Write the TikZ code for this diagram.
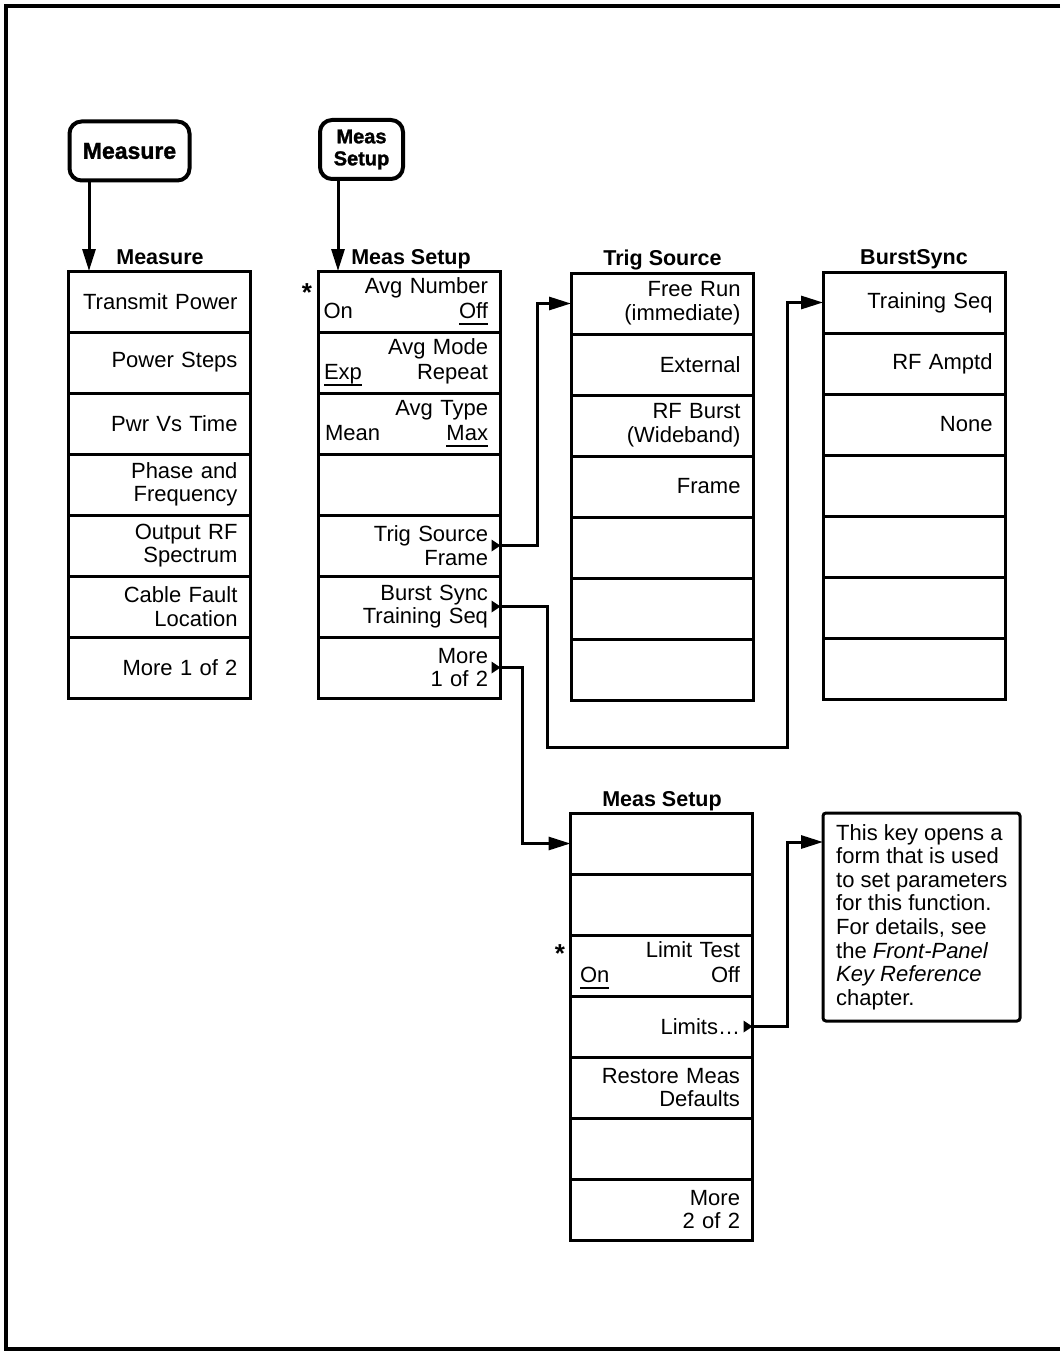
\documentclass[tikz,border=0pt]{standalone}
\usepackage{fontspec}
\setmainfont{Liberation Sans}
\newfontfamily\heavyfont{Liberation Sans}[BoldFeatures={FakeBold=1.5}]
\usetikzlibrary{arrows.meta,calc,positioning}
\newcommand\ulx[1]{\setbox0\hbox{#1}\rlap{\rule[-7pt]{\wd0}{2.4pt}}\box0}
\newcommand\rowfnt{\fontsize{22}{23.6}\selectfont}
\tikzset{
  x=1pt, y=-1pt,
  row/.style={draw, line width=3pt, outer sep=0pt, minimum width=182pt, minimum height=61pt,
    text width=157pt, inner xsep=12.5pt, inner ysep=0pt, align=right, font=\rowfnt},
  trow/.style={row, align=left, font=\fontsize{22}{25}\selectfont},
  ttl/.style={font=\bfseries\fontsize{21.5}{24}\selectfont, inner sep=0pt, anchor=base},
  hkey/.style={draw, line width=4pt, rounded corners=12pt, outer sep=0pt, align=center, inner sep=0pt},
  conn/.style={line width=3pt, -{Triangle[length=22pt,width=13pt]}},
  star/.style={font=\bfseries\fontsize{26}{26}\selectfont, inner sep=0pt, anchor=base},
  desc/.style={draw, line width=3pt, rounded corners=3pt, outer sep=0pt, minimum width=197pt, minimum height=208pt, inner sep=0pt},
  dtext/.style={align=left, inner sep=0pt, anchor=north west, font=\rowfnt},
  frame/.style={line width=4pt}
}
\begin{document}
\begin{tikzpicture}
\useasboundingbox (0,0) rectangle (1060,1351);
\draw[frame] (1060,6) -- (5.5,6) -- (5.5,1349) -- (1060,1349);

% hard keys
\node[hkey, minimum width=120pt, minimum height=59pt, font=\heavyfont\bfseries\fontsize{23}{24}\selectfont] (k1) at (129.5,151) {Measure};
\node[hkey, minimum width=83pt, minimum height=59pt, font=\heavyfont\bfseries\fontsize{20}{22}\selectfont] (k2) at (361.5,149.5) {Meas\\Setup};

% titles
\node[ttl] (tm) at (160,264.5) {Measure};
\node[ttl] (ts) at (411,264.5) {Meas Setup};
\node[ttl] (tt) at (662.5,265.5) {Trig Source};
\node[ttl] (tb) at (914,264.5) {BurstSync};
\node[ttl] (tp) at (662,806) {Meas Setup};

% Measure column
\node[row] (m1) at (159,301.5) {Transmit Power};
\node[row, below=0pt of m1] (m2) {Power Steps};
\node[row, below=0pt of m2] (m3) {Pwr Vs Time\hspace*{3pt}};
\node[row, below=0pt of m3] (m4) {Phase and\\Frequency};
\node[row, below=0pt of m4] (m5) {Output RF\\Spectrum};
\node[row, below=0pt of m5] (m6) {Cable Fault\\Location};
\node[row, below=0pt of m6] (m7) {More 1 of 2};

% Meas Setup column
\node[trow] (s1) at (409.5,301.5) {\null\hfill Avg Number\\\hspace*{-7.5pt}On\hfill\ulx{Off}\hspace*{1.5pt}};
\node[trow, below=0pt of s1] (s2) {\null\hfill Avg Mode\\\hspace*{-7pt}\ulx{Exp}\hfill Repeat};
\node[trow, below=0pt of s2] (s3) {\null\hfill Avg Type\\\hspace*{-6pt}Mean\hfill\ulx{Max}};
\node[row, below=0pt of s3] (s4) {};
\node[row, below=0pt of s4] (s5) {Trig Source\\Frame};
\node[row, below=0pt of s5] (s6) {Burst Sync\\Training Seq};
\node[row, below=0pt of s6] (s7) {More\\1 of 2};
\node[star] (st1) at (307,301) {*};

% Trig Source column
\node[row] (t1) at (662,303.5) {Free Run\\(immediate)};
\node[row, below=0pt of t1] (t2) {External};
\node[row, below=0pt of t2] (t3) {RF Burst\\(Wideband)};
\node[row, below=0pt of t3] (t4) {Frame};
\node[row, below=0pt of t4] (t5) {};
\node[row, below=0pt of t5] (t6) {};
\node[row, below=0pt of t6] (t7) {};

% BurstSync column
\node[row] (b1) at (914,302.5) {Training Seq};
\node[row, below=0pt of b1] (b2) {RF Amptd\hspace*{1pt}};
\node[row, below=0pt of b2] (b3) {None};
\node[row, below=0pt of b3] (b4) {};
\node[row, below=0pt of b4] (b5) {};
\node[row, below=0pt of b5] (b6) {};
\node[row, below=0pt of b6] (b7) {};

% Meas Setup page 2
\node[row] (p1) at (661.5,843.5) {};
\node[row, below=0pt of p1] (p2) {};
\node[trow, below=0pt of p2] (p3) {\null\hfill Limit Test\\\hspace*{-3pt}\ulx{On}\hfill Off};
\node[row, below=0pt of p3] (p4) {Limits\ldots\hspace*{1pt}};
\node[row, below=0pt of p4] (p5) {Restore Meas\\Defaults};
\node[row, below=0pt of p5] (p6) {};
\node[row, below=0pt of p6] (p7) {More\\2 of 2};
\node[star] (st2) at (560,962) {*};

% description
\node[desc] (d) at (921.5,917) {};
\node[dtext] (dt) at ($(d.north west)+(13,11)$) {This key opens a\\form that is used\\to set parameters\\for this function.\\For details, see\\the \textit{Front-Panel}\\\textit{Key Reference}\\chapter.};
\coordinate (din) at ($(d.north west)+(0,29)$);

% small submenu triangles
\foreach \n in {s5,s6,s7,p4}{
  \fill (\n.east) -- ++(-9,-6) -- ++(0,12) -- cycle;
}

% connectors
\draw[conn] ([xshift=-40.5pt]k1.south) -- ([xshift=-70pt]m1.north);
\draw[conn] ([xshift=-23.5pt]k2.south) -- ([xshift=-71.5pt]s1.north);
\draw[conn] (s5.east) -- ++(37,0) |- (t1.west);
\coordinate (c1) at (547,747);
\coordinate (c2) at (787,747);
\draw[conn] (s6.east) -| (c1) -- (c2) |- (b1.west);
\draw[conn] (s7.east) -- ++(22,0) |- (p1.west);
\draw[conn] (p4.east) -- ++(35,0) |- (din);
\end{tikzpicture}
\end{document}
